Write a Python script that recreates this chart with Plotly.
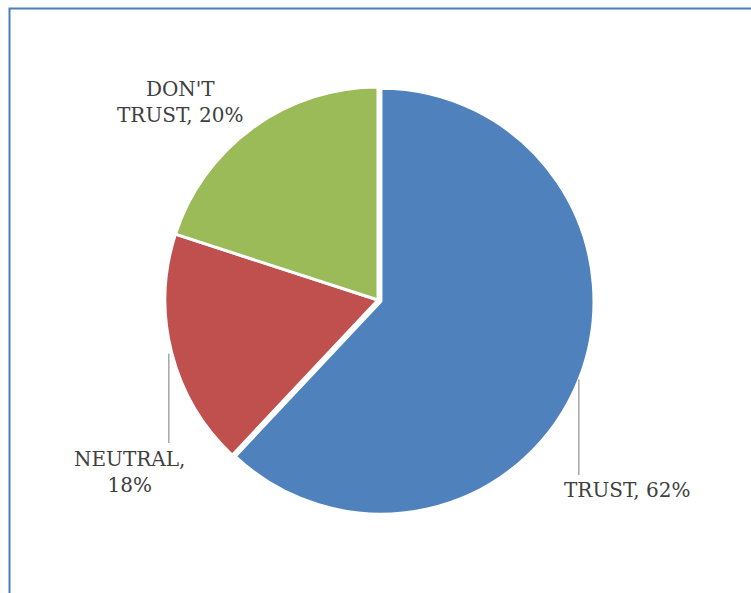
import math
import plotly.graph_objects as go

# Survey answers
labels = ["TRUST", "NEUTRAL", "DON'T TRUST"]
values = [62, 18, 20]
colors = ["#4F81BD", "#C0504D", "#9BBB59"]
label_text = ["TRUST, 62%", "NEUTRAL,<br>18%", "DON'T<br>TRUST, 20%"]

W, H = 751, 593
cx, cy, r = 378, 300, 213          # pie centre / radius in pixels
pull = [0.015, 0, 0]
rd = r * (1 + max(pull))

fig = go.Figure(go.Pie(
    labels=labels,
    values=values,
    sort=False,
    direction="clockwise",
    rotation=0,
    pull=pull,
    marker=dict(colors=colors, line=dict(color="white", width=3)),
    textinfo="none",
    hoverinfo="label+percent",
    showlegend=False,
    domain=dict(x=[(cx - rd) / W, (cx + rd) / W],
                y=[(H - cy - rd) / H, (H - cy + rd) / H]),
))

# label placement (pixel coords) and end of the vertical leader line
label_pos = [(627, 490), (129, 472), (180, 102)]
leader_end = [475, 443, None]

total = sum(values)
shapes = []
annotations = []
acc = 0
for i, v in enumerate(values):
    mid = (acc + v / 2) / total * 2 * math.pi
    acc += v
    lx, ly = label_pos[i]
    annotations.append(dict(
        x=lx / W, y=1 - ly / H, xref="paper", yref="paper",
        text=label_text[i], showarrow=False, align="center",
        xanchor="center", yanchor="middle",
        font=dict(family="DejaVu Serif", size=20, color="#404040"),
    ))
    if leader_end[i] is not None:
        rr = r + 3
        sx = cx + rr * math.sin(mid)
        sy = cy - rr * math.cos(mid)
        shapes.append(dict(
            type="line", xref="paper", yref="paper",
            x0=sx / W, y0=1 - sy / H, x1=sx / W, y1=1 - leader_end[i] / H,
            line=dict(color="#A6A6A6", width=1.5),
        ))

# chart-area frame
shapes.append(dict(
    type="rect", xref="paper", yref="paper",
    x0=9.5 / W, y0=1 - 8.5 / H, x1=(W + 10) / W, y1=-10 / H,
    line=dict(color="#4A7EBB", width=2), fillcolor="rgba(0,0,0,0)", layer="above",
))

fig.update_layout(
    width=W, height=H,
    margin=dict(l=0, r=0, t=0, b=0),
    paper_bgcolor="white",
    plot_bgcolor="white",
    shapes=shapes,
    annotations=annotations,
)

fig.write_html("out.html")
